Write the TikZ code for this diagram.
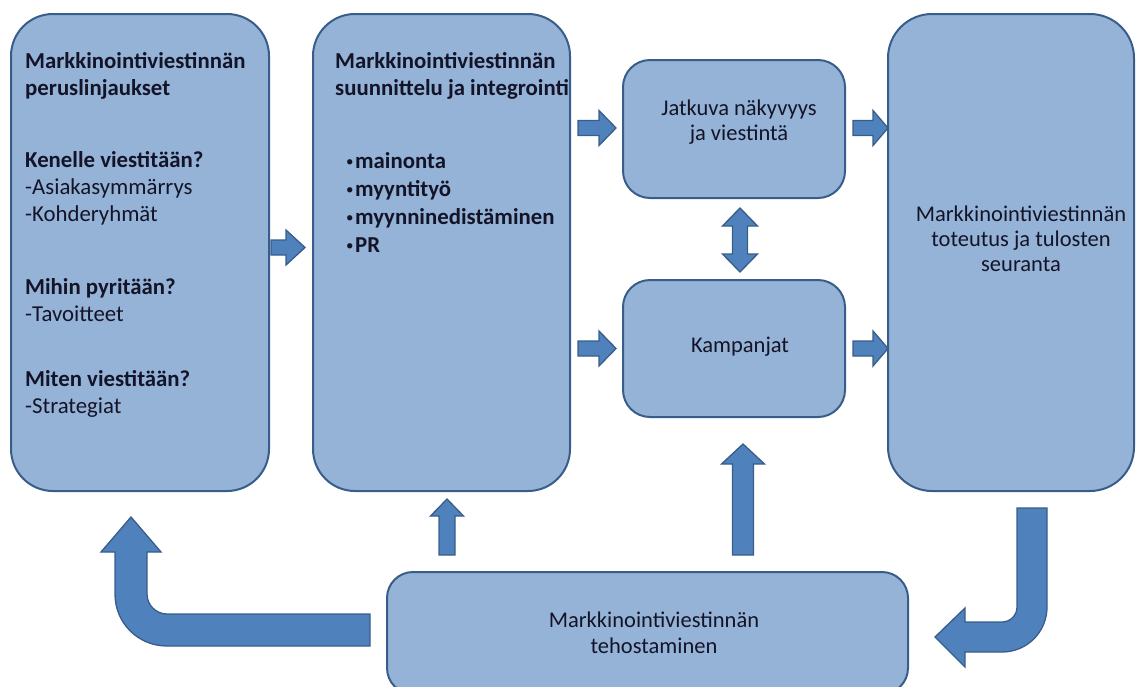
\documentclass[tikz,border=0pt]{standalone}
\usepackage{fontspec}
\setmainfont{Carlito}
\usetikzlibrary{calc}

\definecolor{boxfill}{HTML}{95B3D7}
\definecolor{boxline}{HTML}{385D8A}
\definecolor{arrfill}{HTML}{4F81BD}
\definecolor{ink}{HTML}{141428}

\tikzset{
  panel/.style={draw=boxline, fill=boxfill, line width=2pt, rounded corners=#1, inner sep=0pt},
  panel/.default=42pt,
  barrow/.style={draw=boxline, fill=arrfill, line width=1.3pt, line join=miter},
  txt/.style={text=ink, inner sep=0pt, font=\fontsize{22.8}{27}\selectfont},
  txtc/.style={text=ink, inner sep=0pt, font=\fontsize{22.5}{25}\selectfont},
}

% small list bullet
\newcommand\listdot{\raisebox{1.5pt}{\fontsize{15}{15}\selectfont •}}

% straight block arrow: tail, tip, shaft half width, head half width, head length
\newcommand\blockarrow[5]{%
  \path[barrow] let \p1=(#1), \p2=(#2),
      \n1={atan2(\y2-\y1,\x2-\x1)}, \n2={veclen(\x2-\x1,\y2-\y1)} in
    [shift={(\p1)}, rotate=\n1]
    (0,#3) -- ({\n2-#5},#3) -- ({\n2-#5},#4) -- (\n2,0)
    -- ({\n2-#5},-#4) -- ({\n2-#5},-#3) -- (0,-#3) -- cycle;
}
% block arrow with heads at both ends
\newcommand\twowayarrow[5]{%
  \path[barrow] let \p1=(#1), \p2=(#2),
      \n1={atan2(\y2-\y1,\x2-\x1)}, \n2={veclen(\x2-\x1,\y2-\y1)} in
    [shift={(\p1)}, rotate=\n1]
    (0,0) -- (#5,#4) -- (#5,#3) -- ({\n2-#5},#3) -- ({\n2-#5},#4) -- (\n2,0)
    -- ({\n2-#5},-#4) -- ({\n2-#5},-#3) -- (#5,-#3) -- (#5,-#4) -- cycle;
}

\begin{document}
\begin{tikzpicture}[x=1pt, y=-1pt]
\useasboundingbox (0,0) rectangle (1137,686);

% panels
\node[panel, minimum width=258pt, minimum height=477pt] (b1) at (140,252.5) {};
\node[panel, minimum width=257pt, minimum height=477pt] (b2) at (441.5,252.5) {};
\node[panel=27pt, minimum width=222pt, minimum height=138pt] (b3) at (734,129) {};
\node[panel=27pt, minimum width=222pt, minimum height=137pt] (b4) at (734,348.5) {};
\node[panel=44pt, minimum width=246pt, minimum height=477pt] (b5) at (1011,252.5) {};
\node[panel=26pt, minimum width=521pt, minimum height=122pt] (b6) at (647.5,633) {};

% texts
\node[txt, anchor=base west] (t1) at (25,68) {\begin{tabular}[t]{@{}l@{}}
\textbf{Markkinointiviestinnän}\\
\textbf{peruslinjaukset}\\[45pt]
\textbf{Kenelle viestitään?}\\
-Asiakasymmärrys\\
-Kohderyhmät\\[46pt]
\textbf{Mihin pyritään?}\\
-Tavoitteet\\[38pt]
\textbf{Miten viestitään?}\\
-Strategiat
\end{tabular}};

\node[txt, anchor=base west] (t2) at (335,68) {\begin{tabular}[t]{@{}l@{}}
\textbf{Markkinointiviestinnän}\\
\textbf{suunnittelu ja integrointi}
\end{tabular}};
\node[txt, anchor=base west, font=\fontsize{22.8}{28}\selectfont] (t2b) at (346,168) {\begin{tabular}[t]{@{}l@{\hspace{1.5pt}}l@{}}
\listdot & \textbf{mainonta}\\
\listdot & \textbf{myyntityö}\\
\listdot & \textbf{myynninedistäminen}\\
\listdot & \textbf{PR}
\end{tabular}};

\node[txtc, anchor=base] (t3) at (739,115) {\begin{tabular}[t]{@{}c@{}}
Jatkuva näkyvyys\\ ja viestintä
\end{tabular}};
\node[txtc, anchor=base] (t4) at (740,352) {Kampanjat};
\node[txtc, anchor=base] (t5) at (1021,221) {\begin{tabular}[t]{@{}c@{}}
Markkinointiviestinnän\\ toteutus ja tulosten\\ seuranta
\end{tabular}};
\node[txtc, anchor=base, font=\fontsize{22.5}{26}\selectfont] (t6) at (654,627) {\begin{tabular}[t]{@{}c@{}}
Markkinointiviestinnän\\ tehostaminen
\end{tabular}};

% straight connectors
\blockarrow{$(b1.east)+(1,-5)$}{$(b2.west)+(-7,-5)$}{7.5}{17.5}{19}
\blockarrow{$(b2.east |- b3.west)+(7,-1)$}{$(b3.west)+(-6,-1)$}{7.5}{17.5}{17}
\blockarrow{$(b2.east |- b4.west)+(7,0)$}{$(b4.west)+(-6,0)$}{7.5}{17.5}{17}
\blockarrow{$(b3.east)+(7,-1)$}{$(b5.west |- b3.east)+(1,-1)$}{7.5}{17.5}{15}
\blockarrow{$(b4.east)+(7,0)$}{$(b5.west |- b4.east)+(1,0)$}{7.5}{17.5}{15}
\twowayarrow{$(b3.south)+(6,9)$}{$(b4.north)+(6,-7)$}{7.5}{17.5}{18}
\blockarrow{$(b2.south |- b6.north)+(5.5,-16)$}{$(b2.south)+(5.5,7)$}{8}{16.5}{17}
\blockarrow{$(b4.south |- b6.north)+(9,-16)$}{$(b4.south)+(9,26)$}{10.5}{21.5}{20}

% bent connector back to the first panel
\path[barrow] (370,614) -- (167,614) .. controls (156,614) and (147,605) .. (147,594)
  -- (147,552) -- (161,552) -- (131,517) -- (101,552) -- (115,552) -- (115,594)
  .. controls (115,623) and (138,646) .. (167,646) -- (370,646) -- cycle;

% hook from the last panel down to the bottom panel
\path[barrow] (1017,508) -- (1047,508) -- (1047,607)
  .. controls (1047,632) and (1027,652) .. (1002,652) -- (965,652) -- (965,667)
  -- (935,637) -- (965,608) -- (965,622) -- (1002,622)
  .. controls (1010.3,622) and (1017,615.3) .. (1017,607) -- cycle;
\end{tikzpicture}
\end{document}
